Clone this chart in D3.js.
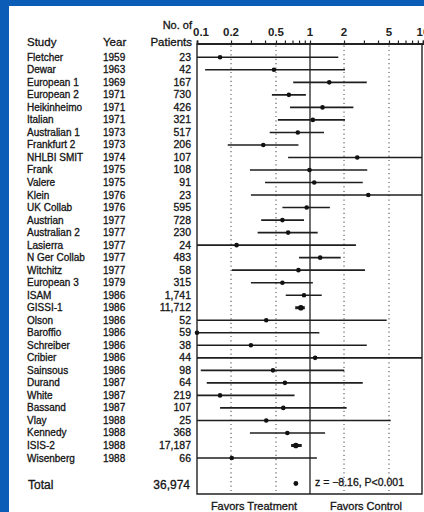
<!DOCTYPE html>
<html><head><meta charset="utf-8">
<script src="https://cdn.jsdelivr.net/npm/d3@7"></script>
<style>
html,body{margin:0;padding:0;background:#0b5cb6;}
svg{display:block;}
text{font-family:"Liberation Sans",Arial,sans-serif;fill:#141414;stroke:#141414;stroke-width:0.3;}
</style></head>
<body>
<svg id="c" width="424" height="512"></svg>
<script>
const studies = ["Fletcher","Dewar","European 1","European 2","Heikinheimo","Italian","Australian 1","Frankfurt 2","NHLBI SMIT","Frank","Valere","Klein","UK Collab","Austrian","Australian 2","Lasierra","N Ger Collab","Witchitz","European 3","ISAM","GISSI-1","Olson","Baroffio","Schreiber","Cribier","Sainsous","Durand","White","Bassand","Vlay","Kennedy","ISIS-2","Wisenberg"];
const years = [1959,1963,1969,1971,1971,1971,1973,1973,1974,1975,1975,1976,1976,1977,1977,1977,1977,1977,1979,1986,1986,1986,1986,1986,1986,1986,1987,1987,1987,1988,1988,1988,1988];
const patients = [23,42,167,730,426,321,517,206,107,108,91,23,595,728,230,24,483,58,315,1741,11712,52,59,38,44,98,64,219,107,25,368,17187,66];
const estimate = [0.16,0.48,1.48,0.65,1.29,1.06,0.78,0.386,2.62,0.99,1.09,3.28,0.935,0.57,0.64,0.224,1.23,0.79,0.57,0.885,0.83,0.41,0.1,0.30,1.11,0.47,0.60,0.16,0.58,0.41,0.63,0.75,0.203];
const lower = [0.1,0.118,0.71,0.46,0.665,0.52,0.44,0.187,0.64,0.294,0.40,0.30,0.57,0.37,0.344,0.1,0.80,0.203,0.30,0.61,0.74,0.1,0.1,0.1,0.1,0.108,0.122,0.1,0.16,0.1,0.294,0.68,0.1];
const upper = [1.78,2.04,3.18,0.92,2.42,2.04,1.33,0.79,10,3.21,2.93,10,1.50,0.885,1.17,2.55,1.87,3.07,1.06,1.27,0.90,4.77,1.21,3.18,10,2.01,2.93,0.73,2.11,5.18,1.36,0.845,1.15];
const totalPatients = 36974;
const totalEstimate = 0.75;
const totalStat = "z = \u22128.16, P<0.001";
const tickValues = [0.1,0.2,0.5,1,2,5,10];
const dottedValues = [0.2,0.5,2,5];

const svg = d3.select("#c");
svg.append("rect").attr("x",9).attr("y",6).attr("width",415).attr("height",506).attr("fill","#fff");

const x = d3.scaleLog().domain([0.1,10]).range([197,423]);
const y = d3.scalePoint().domain(d3.range(studies.length)).range([57.3,458]);
const yTotal = 483.5;
const boxTop = 43.5, boxBottom = 494, boxLeft = 197, boxRight = 422;
const fmt = d3.format(",");

// dotted gridlines
svg.append("g").selectAll("line").data(dottedValues).join("line")
  .attr("x1",d=>x(d)).attr("x2",d=>x(d)).attr("y1",boxTop+2).attr("y2",boxBottom)
  .attr("stroke","#555").attr("stroke-width",1.1).attr("stroke-dasharray","1.2,3.2");

// reference line at 1
svg.append("line").attr("x1",x(1)).attr("x2",x(1)).attr("y1",boxTop).attr("y2",boxBottom)
  .attr("stroke","#222").attr("stroke-width",1.3);

// box
svg.append("path").attr("d",`M${boxLeft},${boxTop}V${boxBottom}H${boxRight}V${boxTop}`)
  .attr("fill","none").attr("stroke","#222").attr("stroke-width",1.4);

// axis on top
const axis = d3.axisTop(x).tickValues(d3.range(1,10).map(d=>d/10).concat(d3.range(1,11))).tickSize(3).tickFormat("");
const ag = svg.append("g").attr("transform",`translate(0,${boxTop})`).call(axis);
ag.select(".domain").attr("stroke","#222").attr("stroke-width",1.8);
ag.selectAll(".tick line").attr("stroke","#222").attr("stroke-width",1.2);
svg.append("g").selectAll("text").data(tickValues).join("text")
  .attr("x",(d,i)=>x(d)+(i===0?4:0)).attr("y",35.5).attr("text-anchor","middle")
  .attr("font-size",11.5).attr("font-weight","bold").style("fill","#222").style("stroke","none")
  .text(d=>String(d));

// headers
svg.append("text").attr("x",27).attr("y",46).attr("font-size",11.5).text("Study");
svg.append("text").attr("x",103).attr("y",46).attr("font-size",11.5).text("Year");
svg.append("text").attr("x",192).attr("y",29).attr("font-size",11).attr("text-anchor","end").text("No. of");
svg.append("text").attr("x",192).attr("y",46).attr("font-size",11.5).attr("text-anchor","end").text("Patients");

// rows
const rows = svg.append("g").selectAll("g").data(studies).join("g")
  .attr("transform",(d,i)=>`translate(0,${y(i)})`);
rows.append("text").attr("x",27).attr("y",3.5).attr("font-size",10).text(d=>d);
rows.append("text").attr("x",103).attr("y",3.5).attr("font-size",10).text((d,i)=>years[i]);
rows.append("text").attr("x",191).attr("y",3.5).attr("font-size",10.5).attr("text-anchor","end").text((d,i)=>fmt(patients[i]));
rows.append("line")
  .attr("x1",(d,i)=>Math.max(boxLeft,x(lower[i]))).attr("x2",(d,i)=>Math.min(boxRight,x(upper[i])))
  .attr("stroke","#1e1e1e").attr("stroke-width",(d,i)=>patients[i]>10000?3:1.6);
rows.append("circle").attr("cx",(d,i)=>x(estimate[i])).attr("r",(d,i)=>patients[i]>10000?2.8:2.3).attr("fill","#111");

// total
svg.append("text").attr("x",28).attr("y",489).attr("font-size",12).text("Total");
svg.append("text").attr("x",190).attr("y",489).attr("font-size",12).attr("text-anchor","end").text(fmt(totalPatients));
svg.append("circle").attr("cx",x(totalEstimate)).attr("cy",yTotal).attr("r",2.4).attr("fill","#111");
svg.append("text").attr("x",315).attr("y",486).attr("font-size",10.5).text(totalStat);

// footer
svg.append("text").attr("x",254).attr("y",510).attr("font-size",11).attr("text-anchor","middle").text("Favors Treatment");
svg.append("text").attr("x",366).attr("y",510).attr("font-size",11).attr("text-anchor","middle").text("Favors Control");
</script>
</body></html>
